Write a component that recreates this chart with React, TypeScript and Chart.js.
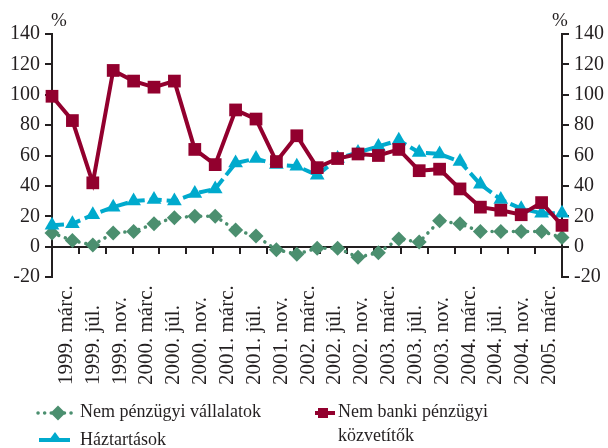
import React, { useEffect, useRef } from "react";
import { Chart, registerables } from "chart.js";

Chart.register(...registerables);

const categories = [
  "1999. márc.", "1999. júl.", "1999. nov.",
  "2000. márc.", "2000. júl.", "2000. nov.",
  "2001. márc.", "2001. júl.", "2001. nov.",
  "2002. márc.", "2002. júl.", "2002. nov.",
  "2003. márc.", "2003. júl.", "2003. nov.",
  "2004. márc.", "2004. júl.", "2004. nov.",
  "2005. márc.",
];

const nemPenzugyiVallalatok = [9, 4, 1, 9, 10, 15, 19, 20, 20, 11, 7, -2, -5, -1, -1, -7, -4, 5, 3, 17, 15, 10, 10, 10, 10, 6];
const haztartasok = [14, 15, 21, 26, 30, 31, 30, 35, 38, 55, 58, 54, 53, 47, 58, 62, 66, 70, 62, 61, 56, 41, 31, 25, 22, 22];
const nemBankiKozvetitok = [99, 83, 42, 116, 109, 105, 109, 64, 54, 90, 84, 56, 73, 52, 58, 61, 60, 64, 50, 51, 38, 26, 24, 21, 29, 14];

const yMin = -20;
const yMax = 140;
const yStep = 20;

const seriesNames = ["Nem pénzügyi vállalatok", "Háztartások", "Nem banki pénzügyi közvetítők"];

const TEXT = "#231f20";
const GREEN = "#4b8f6f";
const BLUE = "#00aacd";
const RED = "#92002e";
const FONT = "'Liberation Serif', 'Times New Roman', serif";

const toPoints = (arr: number[]) => arr.map((v, i) => ({ x: i, y: v }));

const xLabelPlugin = {
  id: "rotatedXLabels",
  afterDraw(chart: any) {
    const scale = chart.scales.xCat;
    const ctx = chart.ctx;
    ctx.save();
    ctx.font = `21px ${FONT}`;
    ctx.fillStyle = TEXT;
    ctx.textAlign = "left";
    ctx.textBaseline = "middle";
    categories.forEach((lab, i) => {
      const x = scale.getPixelForValue(i);
      ctx.save();
      ctx.translate(x, 385);
      ctx.rotate(-Math.PI / 2);
      ctx.fillText(lab, 0, 1);
      ctx.restore();
    });
    ctx.restore();
  },
};

export default function App() {
  const ref = useRef<HTMLCanvasElement | null>(null);

  useEffect(() => {
    if (!ref.current) return;
    const yAxisCommon = (pos: "left" | "right", w: number) => ({
      type: "linear" as const,
      position: pos,
      min: yMin,
      max: yMax,
      afterFit: (s: any) => {
        s.width = w;
      },
      ticks: {
        stepSize: yStep,
        padding: 5,
        color: TEXT,
        font: { family: FONT, size: 20 },
      },
      grid: {
        drawOnChartArea: false,
        drawTicks: true,
        tickLength: 7,
        color: TEXT,
        lineWidth: 2,
      },
      border: { display: true, color: TEXT, width: 2 },
    });

    const chart = new Chart(ref.current, {
      type: "line",
      data: {
        datasets: [
          {
            label: seriesNames[0],
            data: toPoints(nemPenzugyiVallalatok),
            borderColor: GREEN,
            backgroundColor: GREEN,
            borderWidth: 3.5,
            borderDash: [0.1, 7],
            borderCapStyle: "round",
            pointStyle: "rectRot",
            pointRadius: 7.5,
            pointBorderWidth: 0,
            pointBackgroundColor: GREEN,
            tension: 0,
            order: 2,
            clip: false,
          },
          {
            label: seriesNames[1],
            data: toPoints(haztartasok),
            borderColor: BLUE,
            backgroundColor: BLUE,
            borderWidth: 4,
            borderDash: [12, 5],
            pointStyle: "triangle",
            pointRadius: 8.5,
            pointBorderWidth: 0,
            pointBackgroundColor: BLUE,
            tension: 0,
            order: 1,
            clip: false,
          },
          {
            label: seriesNames[2],
            data: toPoints(nemBankiKozvetitok),
            borderColor: RED,
            backgroundColor: RED,
            borderWidth: 4,
            pointStyle: "rect",
            pointRadius: 9,
            pointBorderWidth: 0,
            pointBackgroundColor: RED,
            tension: 0,
            order: 0,
            clip: false,
          },
        ],
      },
      options: {
        responsive: false,
        animation: false,
        devicePixelRatio: 1,
        layout: { padding: { top: 34, bottom: 171, left: 0, right: 0 } },
        plugins: { legend: { display: false }, tooltip: { enabled: false } },
        scales: {
          x: {
            type: "linear",
            display: false,
            min: 0,
            max: nemBankiKozvetitok.length - 1,
          },
          xCat: {
            type: "category",
            axis: "x",
            labels: categories,
            offset: true,
            position: { y: 0 },
            ticks: { display: false },
            grid: {
              offset: true,
              drawOnChartArea: false,
              drawTicks: true,
              tickLength: 6,
              color: TEXT,
              lineWidth: 2,
            },
            border: { display: true, color: TEXT, width: 2 },
          },
          y: yAxisCommon("left", 52),
          y2: yAxisCommon("right", 46),
        },
      } as any,
      plugins: [xLabelPlugin],
    });
    return () => chart.destroy();
  }, []);

  const textStyle: React.CSSProperties = {
    position: "absolute",
    fontFamily: FONT,
    fontSize: 18,
    lineHeight: "24px",
    color: TEXT,
    whiteSpace: "nowrap",
  };

  return (
    <div style={{ position: "fixed", left: 0, top: 0, width: 608, height: 448, background: "#fff", overflow: "hidden" }}>
      <canvas ref={ref} width={608} height={448} style={{ display: "block", width: 608, height: 448 }} />
      <div style={{ ...textStyle, fontSize: 19, left: 51, top: 8 }}>%</div>
      <div style={{ ...textStyle, fontSize: 19, left: 552, top: 8 }}>%</div>
      <svg width={608} height={448} style={{ position: "absolute", left: 0, top: 0, pointerEvents: "none" }}>
        <line x1={38} y1={413} x2={72} y2={413} stroke={GREEN} strokeWidth={3.5} strokeDasharray="0.1 6.5" strokeLinecap="round" />
        <polygon points="58,405.5 65.5,413 58,420.5 50.5,413" fill={GREEN} />
        <line x1={39} y1={440} x2={70} y2={440} stroke={BLUE} strokeWidth={4} />
        <polygon points="55,432 62,441.5 48,441.5" fill={BLUE} />
        <line x1={315} y1={413} x2={335} y2={413} stroke={RED} strokeWidth={4} />
        <rect x={318} y={408} width={10} height={10} fill={RED} />
      </svg>
      <div style={{ ...textStyle, left: 80, top: 399 }}>{seriesNames[0]}</div>
      <div style={{ ...textStyle, left: 80, top: 427 }}>{seriesNames[1]}</div>
      <div style={{ ...textStyle, left: 338, top: 399 }}>
        Nem banki pénzügyi
        <br />
        közvetítők
      </div>
    </div>
  );
}
